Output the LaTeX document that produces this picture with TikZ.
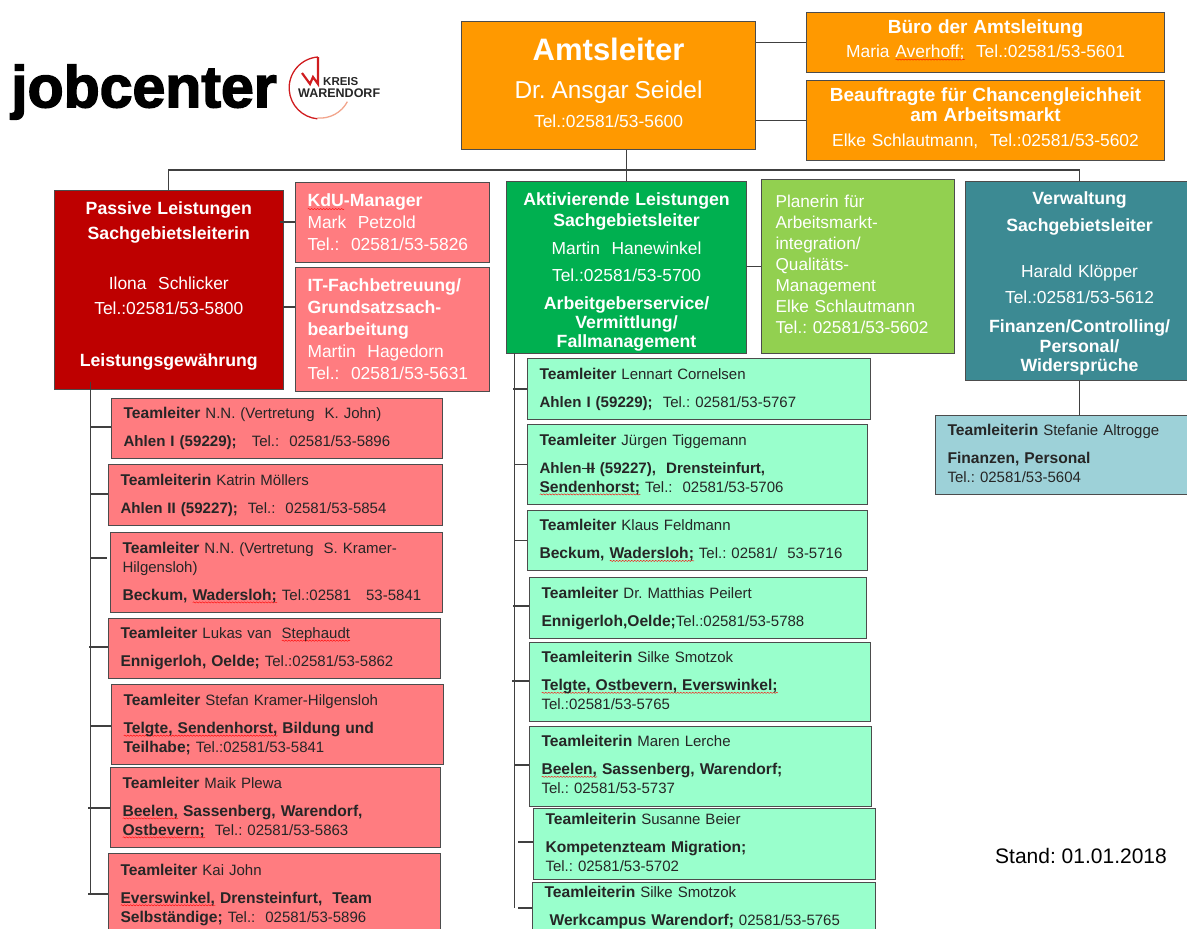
\documentclass[tikz,border=0pt]{standalone}
\usepackage{fontspec}
\usetikzlibrary{decorations.pathmorphing}
\setmainfont{Liberation Sans}
\newfontfamily\logofont[BoldFeatures={FakeBold=2.5}]{Liberation Sans}
\frenchspacing
\definecolor{amtorange}{HTML}{FF9900}
\definecolor{passivred}{HTML}{BE0000}
\definecolor{teamred}{HTML}{FF7C80}
\definecolor{aktivgreen}{HTML}{00B050}
\definecolor{planergreen}{HTML}{92D050}
\definecolor{teamgreen}{HTML}{99FFCC}
\definecolor{verwteal}{HTML}{3C8A93}
\definecolor{teamteal}{HTML}{9DD1D8}
\definecolor{palered}{HTML}{F2A58C}
\definecolor{logored}{HTML}{D01C1F}
\newsavebox\wordbox
\newcommand\spell[1]{\sbox\wordbox{#1}\leavevmode\rlap{\raisebox{-3pt}{\tikz\draw[red,line width=.4pt,decorate,decoration={snake,amplitude=.6pt,segment length=3pt}] (0,0) -- (\wd\wordbox,0);}}\usebox\wordbox}
\newcommand\struck[1]{\sbox\wordbox{#1}\leavevmode\rlap{\rule[4.5pt]{\wd\wordbox}{.7pt}}\usebox\wordbox}
\newcommand\hb[1]{{\fontsize{17.7}{19}\selectfont\bfseries #1}}
\newcommand\tb[1]{{\fontsize{15.6}{19}\selectfont\bfseries #1}}
\newcommand\tc[1]{{\fontsize{15.1}{19}\selectfont\bfseries #1}}
\tikzset{
  sz/.style 2 args={minimum width=#1pt,minimum height=#2pt,text width=#1pt-24pt},
  chart box/.style={draw=black!70,line width=1.1pt,anchor=north west,inner xsep=12pt,inner ysep=0pt},
  headbox/.style={chart box,align=center,text=white,font=\fontsize{17.4}{19}\selectfont},
  sidebox/.style={chart box,align=left,text=white,font=\fontsize{17.4}{22}\selectfont},
  teambox/.style={chart box,align=left,text=black!85,font=\fontsize{15}{19}\selectfont},
  conn/.style={draw=black!75,line width=1.1pt}
}
\begin{document}
\begin{tikzpicture}[x=1pt,y=1pt]
  \useasboundingbox (0,0) rectangle (1187,-929);
  \clip (0,0) rectangle (1187,-929);

  \node[anchor=west,inner sep=0pt,font=\fontsize{59}{59}\selectfont\logofont\bfseries] (jobcenter) at (11,-92) {jobcenter};
  \node[anchor=west,inner sep=0pt,text=black!85,font=\fontsize{11.5}{12}\selectfont\bfseries] (kreis) at (323,-82) {KREIS};
  \node[anchor=west,inner sep=0pt,text=black!85,font=\fontsize{12.5}{13}\selectfont\bfseries] (warendorf) at (298,-93) {WARENDORF};
  \draw[logored,line width=1.3pt] (318,-57) arc (94:265:31);
  \draw[palered,line width=1.3pt] (317.3,-118) arc (265:332:31);
  \draw[logored,line width=2.2pt] (318,-57) -- (318,-84) -- (313,-77) -- (310,-84) -- (302,-73);

  \node[headbox,fill=amtorange,sz={294}{128}] (chef) at (461,-21)
    {{\fontsize{31}{36}\selectfont\bfseries Amtsleiter\par}
     {\fontsize{24.4}{38}\selectfont Dr. Ansgar Seidel\par}
     {\fontsize{17.4}{29}\selectfont Tel.:02581/53-5600\par}\vspace{6pt}};
  \node[headbox,fill=amtorange,sz={358}{60},font=\fontsize{17.4}{24}\selectfont] (buero) at (806,-12)
    {\textbf{\fontsize{19}{24}\selectfont Büro der Amtsleitung}\\
     Maria \spell{Averhoff;}\ \ Tel.:02581/53-5601\par\vspace{5pt}};
  \node[headbox,fill=amtorange,sz={358}{80},font=\fontsize{17.4}{20.5}\selectfont] (chance) at (806,-80)
    {\textbf{\fontsize{19}{21}\selectfont Beauftragte für Chancengleichheit}\\
     \textbf{\fontsize{19}{21}\selectfont am Arbeitsmarkt}\\[4pt]
     Elke Schlautmann,\ \ Tel.:02581/53-5602\par\vspace{5pt}};

  \node[headbox,fill=passivred,sz={229.5}{199},font=\fontsize{17.4}{25}\selectfont] (passiv) at (53.5,-190)
    {\hb{Passive Leistungen}\\
     \hb{Sachgebietsleiterin}\\[25pt]
     Ilona\ \ Schlicker\\
     Tel.:02581/53-5800\\[27pt]
     \hb{Leistungsgewährung}\par\vspace{8pt}};
  \node[sidebox,fill=teamred,sz={194}{80}] (kdu) at (295,-182)
    {\hb{\spell{KdU}-Manager}\\
     Mark\ \ Petzold\\
     Tel.:\ \ 02581/53-5826};
  \node[sidebox,fill=teamred,sz={194}{124}] (itfach) at (295,-267)
    {\hb{IT-Fachbetreuung/}\\
     \hb{Grundsatzsach-}\\
     \hb{bearbeitung}\\
     Martin\ \ Hagedorn\\
     Tel.:\ \ 02581/53-5631};

  \node[headbox,fill=aktivgreen,sz={240}{172}] (aktiv) at (506,-181)
    {\hb{Aktivierende Leistungen}\\[2pt]
     \hb{Sachgebietsleiter}\\[9pt]
     Martin\ \ Hanewinkel\\[8pt]
     Tel.:02581/53-5700\\[9pt]
     \hb{Arbeitgeberservice/}\\
     \hb{Vermittlung/}\\
     \hb{Fallmanagement}\par\vspace{-9pt}};
  \node[sidebox,fill=planergreen,sz={193}{174},inner xsep=14pt,text width=165pt,font=\fontsize{17.2}{21}\selectfont] (planer) at (761,-179)
    {Planerin für\\
     Arbeitsmarkt-\\
     integration/\\
     Qualitäts-\\
     Management\\
     Elke Schlautmann\\
     Tel.:\ 02581/53-5602\par\vspace{5pt}};
  \node[headbox,fill=verwteal,sz={229}{199}] (verw) at (964.5,-181)
    {\hb{Verwaltung}\\[8pt]
     \hb{Sachgebietsleiter}\\[27pt]
     Harald Klöpper\\[7pt]
     Tel.:02581/53-5612\\[10pt]
     \hb{Finanzen/Controlling/}\\[1pt]
     \hb{Personal/}\\
     \hb{Widersprüche}\par\vspace{-5pt}};

  \node[teambox,fill=teamred,sz={331}{60}] (red1) at (111,-398)
    {\tb{Teamleiter} N.N. (Vertretung\ \ K. John)\\[9pt]
     \tc{Ahlen I (59229);}\ \ \ Tel.:\ \ 02581/53-5896};
  \node[teambox,fill=teamred,sz={334}{61}] (red2) at (108,-464)
    {\tb{Teamleiterin} Katrin Möllers\\[9pt]
     \tc{Ahlen II (59227);}\ \ Tel.:\ \ 02581/53-5854};
  \node[teambox,fill=teamred,sz={332}{80}] (red3) at (110,-532)
    {\tb{Teamleiter} N.N. (Vertretung\ \ S. Kramer-\\
     Hilgensloh)\\[9pt]
     \tb{Beckum, \spell{Wadersloh;}} Tel.:02581\ \ \ 53-5841};
  \node[teambox,fill=teamred,sz={332}{60}] (red4) at (108,-618)
    {\tb{Teamleiter} Lukas van\ \ \spell{Stephaudt}\\[9pt]
     \tb{Ennigerloh, Oelde;} Tel.:02581/53-5862};
  \node[teambox,fill=teamred,sz={332}{80}] (red5) at (111,-684)
    {\tb{Teamleiter} Stefan Kramer-Hilgensloh\\[9pt]
     \tb{\spell{Telgte, Sendenhorst,} Bildung und}\\
     \tb{Teilhabe;} Tel.:02581/53-5841};
  \node[teambox,fill=teamred,sz={330}{80}] (red6) at (110,-767)
    {\tb{Teamleiter} Maik Plewa\\[9pt]
     \tb{\spell{Beelen,} Sassenberg, Warendorf,}\\
     \tb{\spell{Ostbevern;}}\ \ Tel.:\ 02581/53-5863};
  \node[teambox,fill=teamred,sz={332}{82}] (red7) at (108,-853)
    {\tb{Teamleiter} Kai John\\[9pt]
     \tb{\spell{Everswinkel,} Drensteinfurt,\ \ Team}\\
     \tb{Selbständige;} Tel.:\ \ 02581/53-5896};

  \node[teambox,fill=teamgreen,sz={343}{61}] (green1) at (527,-358)
    {\tb{Teamleiter} Lennart Cornelsen\\[9pt]
     \tc{Ahlen I (59229);}\ \ Tel.:\ 02581/53-5767};
  \node[teambox,fill=teamgreen,sz={340}{80}] (green2) at (527,-424)
    {\tb{Teamleiter} Jürgen Tiggemann\\[9pt]
     \tc{Ahlen\struck{ II} (59227),\ \ Drensteinfurt,}\\
     \tb{\spell{Sendenhorst;}} Tel.:\ \ 02581/53-5706};
  \node[teambox,fill=teamgreen,sz={340}{60}] (green3) at (527,-510)
    {\tb{Teamleiter} Klaus Feldmann\\[9pt]
     \tb{Beckum, \spell{Wadersloh;}} Tel.:\ 02581/\ \ 53-5716};
  \node[teambox,fill=teamgreen,sz={337}{61}] (green4) at (529,-577)
    {\tb{Teamleiter} Dr. Matthias Peilert\\[9pt]
     \tb{Ennigerloh,Oelde;}Tel.:02581/53-5788};
  \node[teambox,fill=teamgreen,sz={341}{79}] (green5) at (529,-642)
    {\tb{Teamleiterin} Silke Smotzok\\[9pt]
     \tb{\spell{Telgte, Ostbevern, Everswinkel;}}\\
     Tel.:02581/53-5765\par\vspace{3pt}};
  \node[teambox,fill=teamgreen,sz={342}{80}] (green6) at (529,-726)
    {\tb{Teamleiterin} Maren Lerche\\[9pt]
     \tb{\spell{Beelen,} Sassenberg, Warendorf;}\\
     Tel.: 02581/53-5737\par\vspace{4pt}};
  \node[teambox,fill=teamgreen,sz={342}{71}] (green7) at (533,-808)
    {\tb{Teamleiterin} Susanne Beier\\[9pt]
     \tb{Kompetenzteam Migration;}\\
     Tel.: 02581/53-5702\par\vspace{4pt}};
  \node[teambox,fill=teamgreen,sz={343}{50}] (green8) at (532,-882)
    {\tb{Teamleiterin} Silke Smotzok\\[9pt]
     \hspace*{5pt}\tb{Werkcampus Warendorf;} 02581/53-5765};

  \node[teambox,fill=teamteal,sz={252}{79}] (teal1) at (935,-415)
    {\tb{Teamleiterin} Stefanie Altrogge\\[9pt]
     \tb{Finanzen, Personal}\\
     Tel.: 02581/53-5604\par\vspace{4pt}};

  \node[anchor=west,inner sep=0pt,font=\fontsize{21}{22}\selectfont] (stand) at (995,-856) {Stand: 01.01.2018};

  \coordinate (bus) at (625,-170);
  \draw[conn] (aktiv.north |- chef.south) -- (aktiv.north);
  \draw[conn] (passiv.north) |- (bus) -| (verw.north);
  \draw[conn] (chef.east |- buero.west) -- (buero.west);
  \draw[conn] (chef.east |- chance.west) -- (chance.west);
  \draw[conn] (verw.south) -- (teal1.north -| verw.south);
  \draw[conn] (aktiv.east |- planer.west) -- (planer.west);

  \coordinate (kdustub) at (280,-222);
  \coordinate (itstub) at (283,-307);
  \draw[conn] (kdustub) -- (kdustub -| kdu.west);
  \draw[conn] (itstub) -- (itstub -| itfach.west);

  \coordinate (redtop) at (90.5,-382);
  \coordinate (redend) at (90.5,-894);
  \draw[conn] (redtop) -- (redend);
  \coordinate (reds1) at (90.5,-427);
  \coordinate (reds2) at (90.5,-494);
  \coordinate (reds3) at (90.5,-558);
  \coordinate (reds3e) at (107,-558);
  \coordinate (reds4) at (89,-647);
  \coordinate (reds5) at (90.5,-726);
  \coordinate (reds6) at (88,-808);
  \coordinate (reds7) at (88,-894);
  \draw[conn] (reds1) -- (reds1 -| red1.west);
  \draw[conn] (reds2) -- (reds2 -| red2.west);
  \draw[conn] (reds3) -- (reds3e);
  \draw[conn] (reds4) -- (reds4 -| red4.west);
  \draw[conn] (reds5) -- (reds5 -| red5.west);
  \draw[conn] (reds6) -- (reds6 -| red6.west);
  \draw[conn] (reds7) -- (reds7 -| red7.west);

  \coordinate (greentop) at (514.7,-353);
  \coordinate (greenend) at (514.7,-908);
  \draw[conn] (greentop) -- (greenend);
  \coordinate (greens1) at (513,-389);
  \coordinate (greens2) at (514.7,-464.5);
  \coordinate (greens3) at (514.7,-540.5);
  \coordinate (greens4) at (513,-606);
  \coordinate (greens5) at (512,-681);
  \coordinate (greens6) at (514.7,-765);
  \coordinate (greens7) at (518,-842);
  \coordinate (greens8) at (518,-908);
  \draw[conn] (greens1) -- (greens1 -| green1.west);
  \draw[conn] (greens2) -- (greens2 -| green2.west);
  \draw[conn] (greens3) -- (greens3 -| green3.west);
  \draw[conn] (greens4) -- (greens4 -| green4.west);
  \draw[conn] (greens5) -- (greens5 -| green5.west);
  \draw[conn] (greens6) -- (greens6 -| green6.west);
  \draw[conn] (greens7) -- (greens7 -| green7.west);
  \draw[conn] (greens8) -- (greens8 -| green8.west);
\end{tikzpicture}
\end{document}
